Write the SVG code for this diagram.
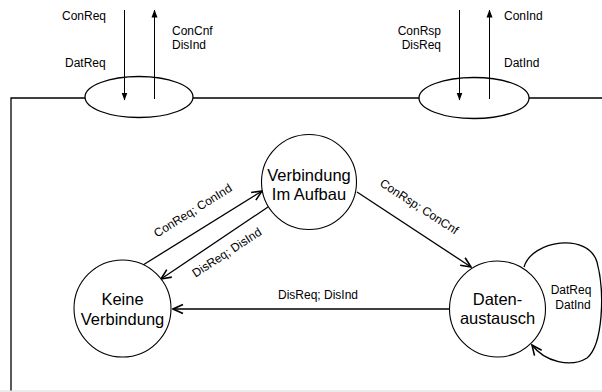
<svg xmlns="http://www.w3.org/2000/svg" width="602" height="392" viewBox="0 0 602 392">
  <style>
    .ln { stroke: #000; stroke-width: 1.3; fill: none; }
    .thin { stroke: #000; stroke-width: 1; fill: none; }
    .st { fill: #fff; stroke: #000; stroke-width: 1.1; }
    .lbl { font-family: "Liberation Sans", Arial, sans-serif; font-size: 12px; fill: #000; }
    .name { font-family: "Liberation Sans", Arial, sans-serif; font-size: 16.5px; fill: #000; text-anchor: middle; }
  </style>
  <defs>
    <marker id="chev" viewBox="0 0 12 12" refX="11" refY="6" markerWidth="12" markerHeight="12" markerUnits="userSpaceOnUse" orient="auto">
      <path d="M1,1.5 L11,6 L1,10.5" fill="none" stroke="#000" stroke-width="1.6"/>
    </marker>
    <marker id="tri" viewBox="0 0 8 8" refX="7.5" refY="4" markerWidth="8" markerHeight="8" markerUnits="userSpaceOnUse" orient="auto">
      <path d="M0,1 L8,4 L0,7 Z" fill="#000"/>
    </marker>
  </defs>

  <!-- service boundary with the two access points -->
  <g id="boundary">
    <path class="ln" d="M11,391 V98 H85 M193,98 H419 M529,98 H602"/>
    <line x1="0" y1="391" x2="602" y2="391" stroke="#d8d8d8" stroke-width="1"/>
    <ellipse class="ln" cx="139" cy="97" rx="54" ry="20.5"/>
    <ellipse class="ln" cx="474" cy="98" rx="55" ry="20.5"/>
  </g>

  <!-- primitives at the access points -->
  <g id="primitives">
    <line class="thin" x1="124.5" y1="10" x2="124.5" y2="100" marker-end="url(#tri)"/>
    <line class="thin" x1="154.5" y1="99" x2="154.5" y2="10" marker-end="url(#tri)"/>
    <line class="thin" x1="459.5" y1="10" x2="459.5" y2="100" marker-end="url(#tri)"/>
    <line class="thin" x1="489.5" y1="99" x2="489.5" y2="10" marker-end="url(#tri)"/>
    <text class="lbl" x="62" y="20">ConReq</text>
    <text class="lbl" x="65" y="67">DatReq</text>
    <text class="lbl" x="172" y="35">ConCnf</text>
    <text class="lbl" x="172" y="49">DisInd</text>
    <text class="lbl" x="441" y="35" text-anchor="end">ConRsp</text>
    <text class="lbl" x="441" y="49" text-anchor="end">DisReq</text>
    <text class="lbl" x="504" y="20">ConInd</text>
    <text class="lbl" x="504" y="67">DatInd</text>
  </g>

  <!-- transitions -->
  <g id="connectors">
    <line class="ln" x1="143" y1="265" x2="262" y2="191" marker-end="url(#chev)"/>
    <line class="ln" x1="268" y1="207" x2="161" y2="279" marker-end="url(#chev)"/>
    <line class="ln" x1="357" y1="192" x2="471" y2="267" marker-end="url(#chev)"/>
    <line class="ln" x1="449" y1="309" x2="173" y2="309" marker-end="url(#chev)"/>
    <path class="ln" d="M524,267 C532,240 588,232 597,262 C605,292 603,345 587,358 C571,368 545,362 532,345" marker-end="url(#chev)"/>
    <text class="lbl" transform="translate(195,214) rotate(-32)" text-anchor="middle">ConReq; ConInd</text>
    <text class="lbl" transform="translate(229,256) rotate(-33)" text-anchor="middle">DisReq; DisInd</text>
    <text class="lbl" transform="translate(417,210) rotate(33)" text-anchor="middle">ConRsp; ConCnf</text>
    <text class="lbl" x="318" y="299" text-anchor="middle">DisReq; DisInd</text>
    <text class="lbl" x="571" y="294" text-anchor="middle">DatReq</text>
    <text class="lbl" x="573" y="309" text-anchor="middle">DatInd</text>
  </g>

  <!-- states -->
  <g id="aufbau">
    <circle class="st" cx="309" cy="182" r="47.5"/>
    <text class="name" x="309" y="181">Verbindung</text>
    <text class="name" x="309" y="200">Im Aufbau</text>
  </g>
  <g id="keine">
    <circle class="st" cx="122.5" cy="308.5" r="48.5"/>
    <text class="name" x="122.5" y="305">Keine</text>
    <text class="name" x="122.5" y="325">Verbindung</text>
  </g>
  <g id="daten">
    <circle class="st" cx="497.5" cy="309" r="48"/>
    <text class="name" x="497.5" y="305">Daten-</text>
    <text class="name" x="497.5" y="324">austausch</text>
  </g>
</svg>
